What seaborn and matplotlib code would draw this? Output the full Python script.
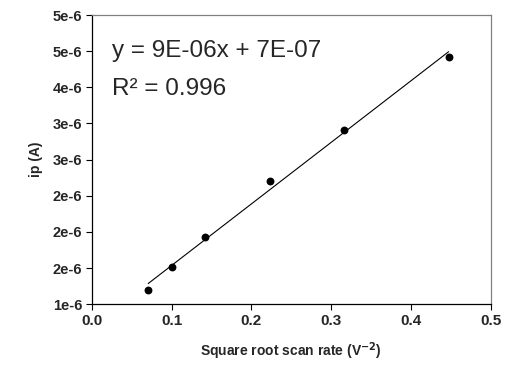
import numpy as np
import pandas as pd
import matplotlib
matplotlib.use("Agg")
import matplotlib.pyplot as plt
import seaborn as sns

# Data
scan_rate_sqrt = [0.0707, 0.1000, 0.1414, 0.2236, 0.3162, 0.4472]
peak_current = [1.20e-6, 1.51e-6, 1.93e-6, 2.70e-6, 3.41e-6, 4.42e-6]

y_ticks = [1.0e-6, 1.5e-6, 2.0e-6, 2.5e-6, 3.0e-6, 3.5e-6, 4.0e-6, 4.5e-6, 5.0e-6]
y_tick_labels = ["1e-6", "2e-6", "2e-6", "2e-6", "3e-6", "3e-6", "4e-6", "5e-6", "5e-6"]
x_ticks = [0.0, 0.1, 0.2, 0.3, 0.4, 0.5]
x_tick_labels = ["0.0", "0.1", "0.2", "0.3", "0.4", "0.5"]

df = pd.DataFrame({"x": scan_rate_sqrt, "ip": peak_current})

sns.set_style("white")
plt.rcParams["font.family"] = ["Liberation Sans", "DejaVu Sans"]

fig = plt.figure(figsize=(5.07, 3.66), dpi=100)
ax = fig.add_axes([0.181, 0.1686, 0.787, 0.7904])

sns.regplot(data=df, x="x", y="ip", ax=ax, ci=None,
            scatter_kws={"s": 32, "color": "black", "linewidths": 0, "alpha": 1},
            line_kws={"color": "black", "linewidth": 0.8})

ax.set_xlim(0, 0.5)
ax.set_ylim(1e-6, 5e-6)
ax.set_xticks(x_ticks)
ax.set_xticklabels(x_tick_labels, fontweight="bold", fontsize=11)
ax.set_yticks(y_ticks)
ax.set_yticklabels(y_tick_labels, fontweight="bold", fontsize=10.5)
ax.tick_params(direction="out", length=4, width=0.8, color="black", pad=3,
               bottom=True, left=True, top=False, right=False)

for side in ["left", "bottom"]:
    ax.spines[side].set_color("black")
    ax.spines[side].set_linewidth(0.9)
for side in ["top", "right"]:
    ax.spines[side].set_color("#808080")
    ax.spines[side].set_linewidth(0.9)

ax.set_xlabel("Square root scan rate (V$^{\\mathbf{-2}}$)", fontweight="bold", fontsize=10, labelpad=9)
ax.set_ylabel("ip (A)", fontweight="bold", fontsize=10, labelpad=7)

ax.text(0.051, 0.856, "y = 9E-06x + 7E-07", transform=ax.transAxes,
        fontsize=17.5, va="baseline", ha="left")
ax.text(0.051, 0.7235, "R\u00b2 = 0.996", transform=ax.transAxes,
        fontsize=17.5, va="baseline", ha="left")

fig.savefig("out.png", dpi=100)
